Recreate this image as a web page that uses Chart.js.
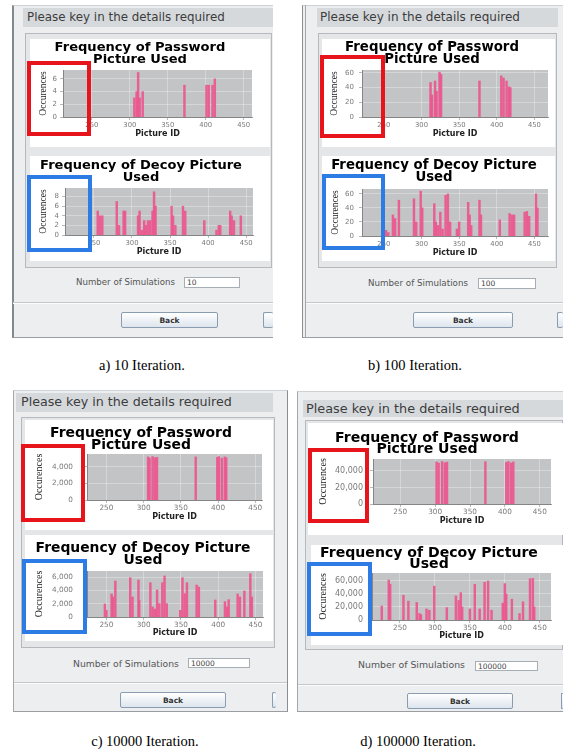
<!DOCTYPE html>
<html><head><meta charset="utf-8">
<script src="https://cdn.jsdelivr.net/npm/chart.js@4.4.1/dist/chart.umd.min.js"></script>
<style>
html,body{margin:0;padding:0;background:#fff;}
body{position:relative;width:563px;height:756px;overflow:hidden;font-family:"DejaVu Sans",sans-serif;}
#root{position:absolute;left:0;top:0;width:563px;height:756px;}
</style></head><body>
<div id="root"></div>
<script>
// ---------------- DATA ----------------
const xTickLabels = [250, 300, 350, 400, 450];
const chartTitlePassword = ['Frequency of Password', 'Picture Used'];
const chartTitleDecoy = ['Frequency of Decoy Picture', 'Used'];
const simulations = ['10', '100', '10000', '100000'];
const captions = ['a) 10 Iteration.', 'b) 100 Iteration.', 'c) 10000 Iteration.', 'd) 100000 Iteration.'];

// a) 10 iterations
const passwordIdsA = [306, 309, 311, 313, 317, 372, 401, 404, 409, 412];
const passwordCountsA = [3, 4, 7, 3, 4, 5, 5, 5, 5, 6];
const decoyIdsA = [244, 255, 258, 261, 280, 283, 289, 291, 308, 310, 313, 316, 318, 321, 324, 327, 329, 331, 352, 354, 357, 367, 370, 395, 411, 414, 416, 429, 431, 434, 443];
const decoyCountsA = [2, 5, 4, 4, 7, 2, 5, 5, 4, 5, 1, 3, 2, 3, 3, 5, 9, 6, 6, 4, 2, 6, 5, 3, 1, 2, 2, 5, 4, 3, 4];
const yTicksPasswordA = [0, 2, 4, 6];
const yTicksDecoyA = [0, 2, 4, 6, 8];

// b) 100 iterations
const passwordIdsB = [312, 314, 318, 320, 324, 326, 377, 406, 409, 413, 416, 418];
const passwordCountsB = [47, 30, 49, 35, 61, 58, 49, 56, 53, 49, 41, 40];
const decoyIdsB = [253, 256, 262, 265, 270, 290, 293, 299, 301, 317, 319, 322, 325, 328, 332, 335, 338, 347, 350, 362, 364, 366, 377, 379, 404, 417, 420, 423, 437, 440, 443, 452, 454];
const decoyCountsB = [8, 5, 30, 25, 51, 53, 20, 64, 40, 46, 20, 15, 34, 10, 58, 60, 20, 10, 20, 48, 30, 15, 51, 30, 23, 32, 30, 30, 34, 35, 28, 60, 40];
const yTicksPasswordB = [0, 20, 40, 60];
const yTicksDecoyB = [0, 20, 40, 60];

// c) 10000 iterations
const passwordIdsC = [306, 308, 312, 315, 318, 370, 399, 401, 405, 409, 411];
const passwordCountsC = [5200, 5050, 5240, 5100, 5150, 5200, 5150, 5240, 5050, 5200, 5100];
const decoyIdsC = [248, 250, 257, 259, 262, 282, 285, 293, 294, 309, 312, 315, 318, 321, 325, 328, 331, 349, 352, 355, 358, 371, 374, 396, 409, 412, 414, 426, 429, 435, 443, 445];
const decoyCountsC = [1950, 1000, 3450, 3000, 5400, 5900, 3000, 5550, 2500, 5150, 1500, 1200, 4050, 2000, 5150, 6150, 2000, 1000, 5900, 3500, 5150, 4800, 4500, 2550, 2300, 1500, 2600, 3450, 3000, 3900, 6500, 3000];
const yTicksPasswordC = [0, 2000, 4000];
const yTicksDecoyC = [0, 2000, 4000, 6000];

// d) 100000 iterations
const passwordIdsD = [302, 305, 310, 314, 317, 372, 402, 405, 409, 412];
const passwordCountsD = [51000, 49500, 51400, 50000, 50800, 51200, 50500, 51400, 49800, 51000];
const decoyIdsD = [224, 234, 236, 255, 262, 274, 278, 280, 288, 292, 299, 317, 330, 334, 337, 339, 350, 357, 364, 371, 376, 381, 397, 400, 402, 410, 421, 426, 436, 440, 442];
const decoyCountsD = [21500, 61500, 55000, 38000, 29000, 27000, 10000, 8000, 17000, 15000, 52000, 19000, 37000, 30000, 42000, 20000, 17000, 55000, 17000, 58000, 60000, 15000, 26000, 56000, 40000, 32000, 10000, 28000, 63500, 64000, 20000];
const yTicksPasswordD = [0, 20000, 40000];
const yTicksDecoyD = [0, 20000, 40000, 60000];

// ---------------- LAYOUT ----------------
const root = document.getElementById('root');
const mctx = document.createElement('canvas').getContext('2d');
function fitSize(str, weight, family, target) {
  mctx.font = `${weight} 100px "${family}"`;
  return 100 * target / mctx.measureText(str).width;
}
function box(x, y, w, h, css) {
  const d = document.createElement('div');
  d.style.cssText = `position:absolute;left:${x}px;top:${y}px;width:${w}px;height:${h}px;box-sizing:border-box;${css || ''}`;
  root.appendChild(d);
  return d;
}
function label(str, x, cy, opt) {
  const o = Object.assign({family: 'DejaVu Sans', weight: 'normal', size: 10, color: '#444', align: 'left', width: null}, opt || {});
  let size = o.size;
  if (o.width) size = fitSize(str, o.weight, o.family, o.width);
  const h = Math.ceil(size * 1.4);
  const d = document.createElement('div');
  let left = x, w = 'auto', ta = 'left';
  if (o.align === 'center') { left = x - 200; w = '400px'; ta = 'center'; }
  d.style.cssText = `position:absolute;left:${left}px;top:${cy - h / 2}px;width:${w};height:${h}px;line-height:${h}px;white-space:nowrap;text-align:${ta};font-family:"${o.family}";font-weight:${o.weight};font-size:${size}px;color:${o.color};`;
  d.textContent = str;
  root.appendChild(d);
  return d;
}

const btnCss = 'background:linear-gradient(#ffffff,#dde5ee);border:1px solid #8a9cb0;border-radius:2px;';
const panels = [
  {frame: [12, 5, 261, 333], frameCss: 'border-left:2px solid #85898d;border-top:1px solid #cfd2d5;border-bottom:1px solid #9a9ea2;',
   header: [23, 8, 250, 19], htext: [27, 17.5, 198], group: [25, 33, 247, 235], w1: [30, 39, 240, 108], w2: [30, 156, 240, 105],
   sim: [76, 282, 99], input: [184, 277, 56, 11], sep: [13, 302, 260], back: [121, 312, 97, 16], partial: [263, 312, 10, 16], cap: [142, 365]},
  {frame: [302, 5, 261, 333], frameCss: 'border-left:1px solid #8a8e92;border-top:1px solid #cfd2d5;border-bottom:1px solid #9a9ea2;', inner: 305,
   header: [317, 8, 241, 19], htext: [320, 17.5, 200], group: [318, 33, 239, 235], w1: [322, 39, 233, 108], w2: [322, 156, 233, 105],
   sim: [368, 283, 100], input: [478, 278, 58, 11], sep: [306, 302, 257], back: [413, 312, 100, 16], partial: [557, 312, 6, 16], cap: [415, 365]},
  {frame: [13, 390, 275, 322], frameCss: 'border-left:1px solid #a3a7ab;border-right:1px solid #8a8e92;border-top:1px solid #cfd2d5;border-bottom:1px solid #9a9ea2;',
   header: [16, 393, 257, 19], htext: [21, 402, 211], group: [21, 417, 254, 231], w1: [25, 420, 248, 110], w2: [25, 535, 248, 106],
   sim: [73, 663, 106], input: [188, 658, 62, 10], sep: [14, 682, 273], back: [120, 692, 106, 16], partial: [272, 692, 4, 16], cap: [145, 741]},
  {frame: [297, 391, 266, 321], frameCss: 'border-left:1px solid #a3a7ab;border-top:1px solid #cfd2d5;border-bottom:1px solid #9a9ea2;',
   header: [303, 400, 260, 17], htext: [306, 408.5, 214], group: [305, 420, 258, 230], w1: [308, 423, 255, 112], w2: [311, 545, 252, 100],
   sim: [358, 665, 107], input: [475, 661, 63, 10], sep: [298, 684, 265], back: [407, 693, 106, 16], partial: [561, 693, 2, 16], cap: [418, 741]}
];

panels.forEach((p, i) => {
  box(...p.frame, 'background:#eceef0;' + p.frameCss);
  if (p.inner) box(p.inner, p.frame[1], 1, p.frame[3], 'background:#a4a8ac;');
  box(...p.header, 'background:#d6d9dc;');
  label('Please key in the details required', p.htext[0], p.htext[1], {width: p.htext[2], color: '#3c3c3c'});
  box(...p.group, 'background:#e4e6e8;border:1px solid #b5b9bd;');
  box(...p.w1, 'background:#fff;');
  box(...p.w2, 'background:#fff;');
  label('Number of Simulations', p.sim[0], p.sim[1], {width: p.sim[2], color: '#555'});
  box(...p.input, 'background:#fff;border:1px solid #a5adb5;');
  label(simulations[i], p.input[0] + 3, p.input[1] + p.input[3] / 2, {size: 7.5, color: '#444'});
  box(p.sep[0], p.sep[1], p.sep[2], 1, 'background:#c4c8cc;');
  box(p.sep[0], p.sep[1] + 1, p.sep[2], 1, 'background:#fafbfc;');
  box(...p.back, btnCss);
  label('Back', p.back[0] + p.back[2] / 2, p.back[1] + p.back[3] / 2, {size: 7.5, weight: 'bold', color: '#333', align: 'center'});
  box(...p.partial, btnCss + 'border-right:none;');
  label(captions[i], p.cap[0], p.cap[1], {family: 'Liberation Serif', size: 14.5, color: '#000', align: 'center'});
});

const plotBg = {
  id: 'plotBg',
  beforeDraw(c) {
    const a = c.chartArea, ctx = c.ctx;
    ctx.save();
    ctx.fillStyle = '#c2c4c5';
    ctx.fillRect(a.left, a.top, a.right - a.left, a.bottom - a.top);
    ctx.restore();
  }
};

const chartSpecs = [
  {ids: passwordIdsA, vals: passwordCountsA, yTicks: yTicksPasswordA, title: chartTitlePassword, plot: [63, 70, 252, 117], tcx: 143, t1: 48, tlh: 12, tw: 171, ytx: 43, xty: 134, xMin: 212, xMax: 461, yMax: 7.4, fx: 6.8, fy: 7, fo: 9.5, yp: 3},
  {ids: decoyIdsA, vals: decoyCountsA, yTicks: yTicksDecoyA, title: chartTitleDecoy, plot: [65, 188, 253, 235], tcx: 144, t1: 166, tlh: 12, tw: 202, ytx: 43, xty: 252, xMin: 212, xMax: 459, yMax: 9.8, fx: 6.8, fy: 7, fo: 9.5, yp: 3},
  {ids: passwordIdsB, vals: passwordCountsB, yTicks: yTicksPasswordB, title: chartTitlePassword, plot: [362, 70, 548, 117], tcx: 435, t1: 48, tlh: 12, tw: 174, ytx: 334, xty: 134, xMin: 221, xMax: 468, yMax: 64, fx: 6.8, fy: 7, fo: 9.5, yp: 5},
  {ids: decoyIdsB, vals: decoyCountsB, yTicks: yTicksDecoyB, title: chartTitleDecoy, plot: [362, 189, 548, 236], tcx: 437, t1: 166, tlh: 12, tw: 206, ytx: 335, xty: 253, xMin: 221, xMax: 468, yMax: 67, fx: 6.8, fy: 7, fo: 9.5, yp: 5},
  {ids: passwordIdsC, vals: passwordCountsC, yTicks: yTicksPasswordC, title: chartTitlePassword, plot: [87, 454, 262, 500], tcx: 144, t1: 433, tlh: 12, tw: 182, ytx: 39, xty: 517, xMin: 224, xMax: 459, yMax: 5550, fx: 7.3, fy: 7.3, fo: 10, yp: 11},
  {ids: decoyIdsC, vals: decoyCountsC, yTicks: yTicksDecoyC, title: chartTitleDecoy, plot: [87, 571, 263, 617], tcx: 146, t1: 548, tlh: 12, tw: 215, ytx: 39, xty: 633, xMin: 224, xMax: 460, yMax: 6900, fx: 7.3, fy: 7.3, fo: 10, yp: 11},
  {ids: passwordIdsD, vals: passwordCountsD, yTicks: yTicksPasswordD, title: chartTitlePassword, plot: [373, 459, 551, 504], tcx: 430, t1: 438, tlh: 11.5, tw: 184, ytx: 323, xty: 521, xMin: 211, xMax: 466, yMax: 54500, fx: 7.3, fy: 8, fo: 10, yp: 7},
  {ids: decoyIdsD, vals: decoyCountsD, yTicks: yTicksDecoyD, title: chartTitleDecoy, plot: [372, 573, 551, 620], tcx: 432, t1: 553, tlh: 11, tw: 218, ytx: 323, xty: 636, xMin: 210, xMax: 466, yMax: 72300, fx: 7.3, fy: 8, fo: 10, yp: 6}
];

function makeChart(s) {
  const rp = 6, tp = 5;
  const R = s.plot[2] + rp;
  const L = Math.round(2 * s.tcx - R);
  const T = Math.round(s.t1 - s.tlh / 2 - tp);
  const B = s.xty + 7;
  const W = R - L, H = B - T;
  const cv = document.createElement('canvas');
  cv.width = W; cv.height = H;
  cv.style.cssText = `position:absolute;left:${L}px;top:${T}px;width:${W}px;height:${H}px;`;
  root.appendChild(cv);
  const yW = s.plot[0] - L;
  const xH = B - s.plot[3];
  const fs = fitSize(s.title[0], 'bold', 'DejaVu Sans', s.tw);
  const yTitleLH = s.fo * 1.15;
  const titleTop = s.t1 - s.tlh / 2 - T;
  new Chart(cv, {
    type: 'bar',
    data: {datasets: [{
      data: s.ids.map((id, i) => ({x: id, y: s.vals[i]})),
      backgroundColor: 'rgba(236,86,142,0.92)', borderWidth: 0, barThickness: 1.8, grouped: false
    }]},
    options: {
      responsive: false, animation: false, devicePixelRatio: 1,
      layout: {padding: {left: 0, right: rp, top: 0, bottom: 0}},
      plugins: {
        legend: {display: false}, tooltip: {enabled: false},
        title: {display: true, text: s.title, color: '#000',
          font: {family: 'DejaVu Sans', weight: 'bold', size: fs, lineHeight: s.tlh / fs},
          padding: {top: titleTop, bottom: s.plot[1] - T - titleTop - 2 * s.tlh}}
      },
      scales: {
        x: {
          type: 'linear', min: s.xMin, max: s.xMax, offset: false,
          afterBuildTicks: sc => { sc.ticks = xTickLabels.map(v => ({value: v})); },
          afterFit: sc => { sc.height = xH; },
          ticks: {font: {family: 'DejaVu Sans', size: s.fx}, color: '#7a7a7a', padding: 1, maxRotation: 0, autoSkip: false},
          grid: {offset: false, color: 'rgba(238,238,238,0.75)', lineWidth: 0.6, tickColor: '#8a8a8a', tickLength: 3},
          border: {color: '#858585'},
          title: {display: true, text: 'Picture ID', color: '#222',
            font: {family: 'DejaVu Sans', weight: 'bold', size: 8, lineHeight: 1.25}, padding: {top: 0, bottom: 2}}
        },
        y: {
          min: 0, max: s.yMax,
          afterBuildTicks: sc => { sc.ticks = s.yTicks.map(v => ({value: v})); },
          afterFit: sc => { sc.width = yW; },
          ticks: {font: {family: 'DejaVu Sans', size: s.fy}, color: '#7a7a7a', padding: s.yp, callback: v => Number(v).toLocaleString('en-US')},
          grid: {color: 'rgba(238,238,238,0.75)', lineWidth: 0.6, tickColor: '#8a8a8a', tickLength: 3},
          border: {color: '#858585'},
          title: {display: true, text: 'Occurences', color: '#222',
            font: {family: 'Liberation Serif', size: s.fo, lineHeight: 1.15}, padding: {top: s.ytx - L - yTitleLH / 2, bottom: 0}}
        }
      }
    },
    plugins: [plotBg]
  });
}
chartSpecs.forEach(makeChart);

// highlight boxes
const highlightBoxes = [
  [27, 61, 64, 75, '#e8141b'], [27, 175, 65, 77, '#2d7be5'],
  [320, 55, 65, 83, '#e8141b'], [322, 174, 63, 76, '#2d7be5'],
  [21, 444, 64, 78, '#e8141b'], [22, 559, 65, 75, '#2d7be5'],
  [308, 448, 61, 75, '#e8141b'], [307, 562, 65, 74, '#2d7be5']
];
highlightBoxes.forEach(b => box(b[0], b[1], b[2], b[3], `border:4px solid ${b[4]};z-index:5;`));
</script>
</body></html>
